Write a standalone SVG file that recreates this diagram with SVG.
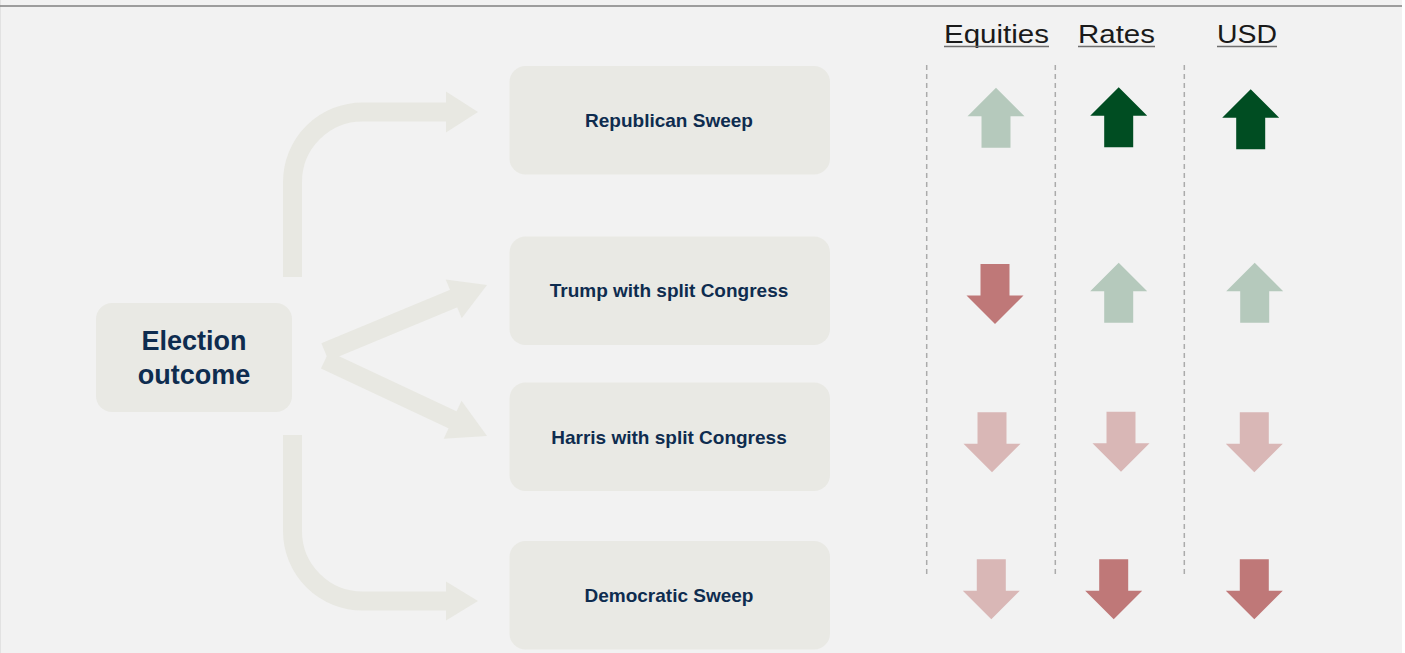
<svg xmlns="http://www.w3.org/2000/svg" width="1405" height="653" viewBox="0 0 1405 653">
<style>
.box{fill:#e9e9e4}
.lbl{font-family:"Liberation Sans",Arial,sans-serif;font-weight:bold;fill:#0e2c4f;text-anchor:middle}
.hdr{font-family:"Liberation Sans",Arial,sans-serif;font-size:25px;fill:#1a1a1a}
.ul{stroke:#6e6e6e;stroke-width:1.6}
.conn{fill:none;stroke:#e8e8e2;stroke-width:19}
.head{fill:#e8e8e2}
.dash{stroke:#ababab;stroke-width:1.5;stroke-dasharray:5 4}
.lg{fill:#b5c9bc}.dg{fill:#004d22}.lr{fill:#d9b7b6}.dr{fill:#bf7878}
</style>
<defs>
<path id="up" d="M0,0 L28.5,28.5 L14.5,28.5 L14.5,60 L-14.5,60 L-14.5,28.5 L-28.5,28.5 Z"/>
<path id="down" d="M0,0 L28.5,-28.5 L14.5,-28.5 L14.5,-60 L-14.5,-60 L-14.5,-28.5 L-28.5,-28.5 Z"/>
</defs>
<rect x="0" y="0" width="1405" height="653" fill="#ffffff"/>
<rect x="0" y="0" width="1402" height="653" fill="#f2f2f2"/>
<line x1="0.5" y1="0" x2="0.5" y2="653" stroke="#e2e2e2" stroke-width="1"/>
<line x1="0" y1="6" x2="1402" y2="6" stroke="#808080" stroke-width="1.6"/>

<g id="connectors">
<path class="conn" d="M292.5,277 L292.5,182 A70,70 0 0 1 362.5,112 L447,112"/>
<polygon class="head" points="446,91.5 478,112 446,132.5"/>
<path class="conn" d="M292.5,435 L292.5,531 A70,70 0 0 0 362.5,601 L447,601"/>
<polygon class="head" points="446,581.5 478,601 446,620.5"/>
<line class="conn" x1="325" y1="352" x2="455" y2="298"/>
<polygon class="head" points="487,285 461.7,318.2 445.7,279.4"/>
<line class="conn" x1="325" y1="360" x2="454" y2="420.5"/>
<polygon class="head" points="487,436 443.7,438.8 461.5,400.8"/>
</g>

<g id="election-outcome">
<rect class="box" x="96" y="303" width="196" height="109" rx="16"/>
<text class="lbl" x="194" y="350" font-size="27">Election</text>
<text class="lbl" x="194" y="384" font-size="27">outcome</text>
</g>
<g id="republican-sweep">
<rect class="box" x="509.5" y="66" width="320.5" height="108.5" rx="16"/>
<text class="lbl" x="669" y="126.5" font-size="19">Republican Sweep</text>
</g>
<g id="trump-split">
<rect class="box" x="509.5" y="236.5" width="320.5" height="108.5" rx="16"/>
<text class="lbl" x="669" y="297.3" font-size="19">Trump with split Congress</text>
</g>
<g id="harris-split">
<rect class="box" x="509.5" y="382.5" width="320.5" height="108.5" rx="16"/>
<text class="lbl" x="669" y="443.7" font-size="19">Harris with split Congress</text>
</g>
<g id="democratic-sweep">
<rect class="box" x="509.5" y="541" width="320.5" height="108.5" rx="16"/>
<text class="lbl" x="669" y="602" font-size="19">Democratic Sweep</text>
</g>

<g id="headers">
<text class="hdr" x="944" y="43" textLength="105" lengthAdjust="spacingAndGlyphs">Equities</text>
<line class="ul" x1="944" y1="46.5" x2="1049" y2="46.5"/>
<text class="hdr" x="1078" y="43" textLength="77" lengthAdjust="spacingAndGlyphs">Rates</text>
<line class="ul" x1="1078" y1="46.5" x2="1155" y2="46.5"/>
<text class="hdr" x="1217" y="43" textLength="60" lengthAdjust="spacingAndGlyphs">USD</text>
<line class="ul" x1="1217" y1="46.5" x2="1277" y2="46.5"/>
</g>

<g id="dividers">
<line class="dash" x1="926.7" y1="65" x2="926.7" y2="577"/>
<line class="dash" x1="1055.3" y1="65" x2="1055.3" y2="577"/>
<line class="dash" x1="1184.3" y1="65" x2="1184.3" y2="577"/>
</g>

<g id="arrows">
<use href="#up" class="lg" x="996" y="87.7"/>
<use href="#up" class="dg" x="1118.7" y="87.3"/>
<use href="#up" class="dg" x="1250.7" y="89.3"/>
<use href="#down" class="dr" x="995" y="324"/>
<use href="#up" class="lg" x="1118.7" y="262.7"/>
<use href="#up" class="lg" x="1254.7" y="262.7"/>
<use href="#down" class="lr" x="992" y="472.3"/>
<use href="#down" class="lr" x="1121" y="471.7"/>
<use href="#down" class="lr" x="1254.3" y="472.3"/>
<use href="#down" class="lr" x="991.3" y="619.3"/>
<use href="#down" class="dr" x="1113.7" y="619.3"/>
<use href="#down" class="dr" x="1254.3" y="619.3"/>
</g>
</svg>
